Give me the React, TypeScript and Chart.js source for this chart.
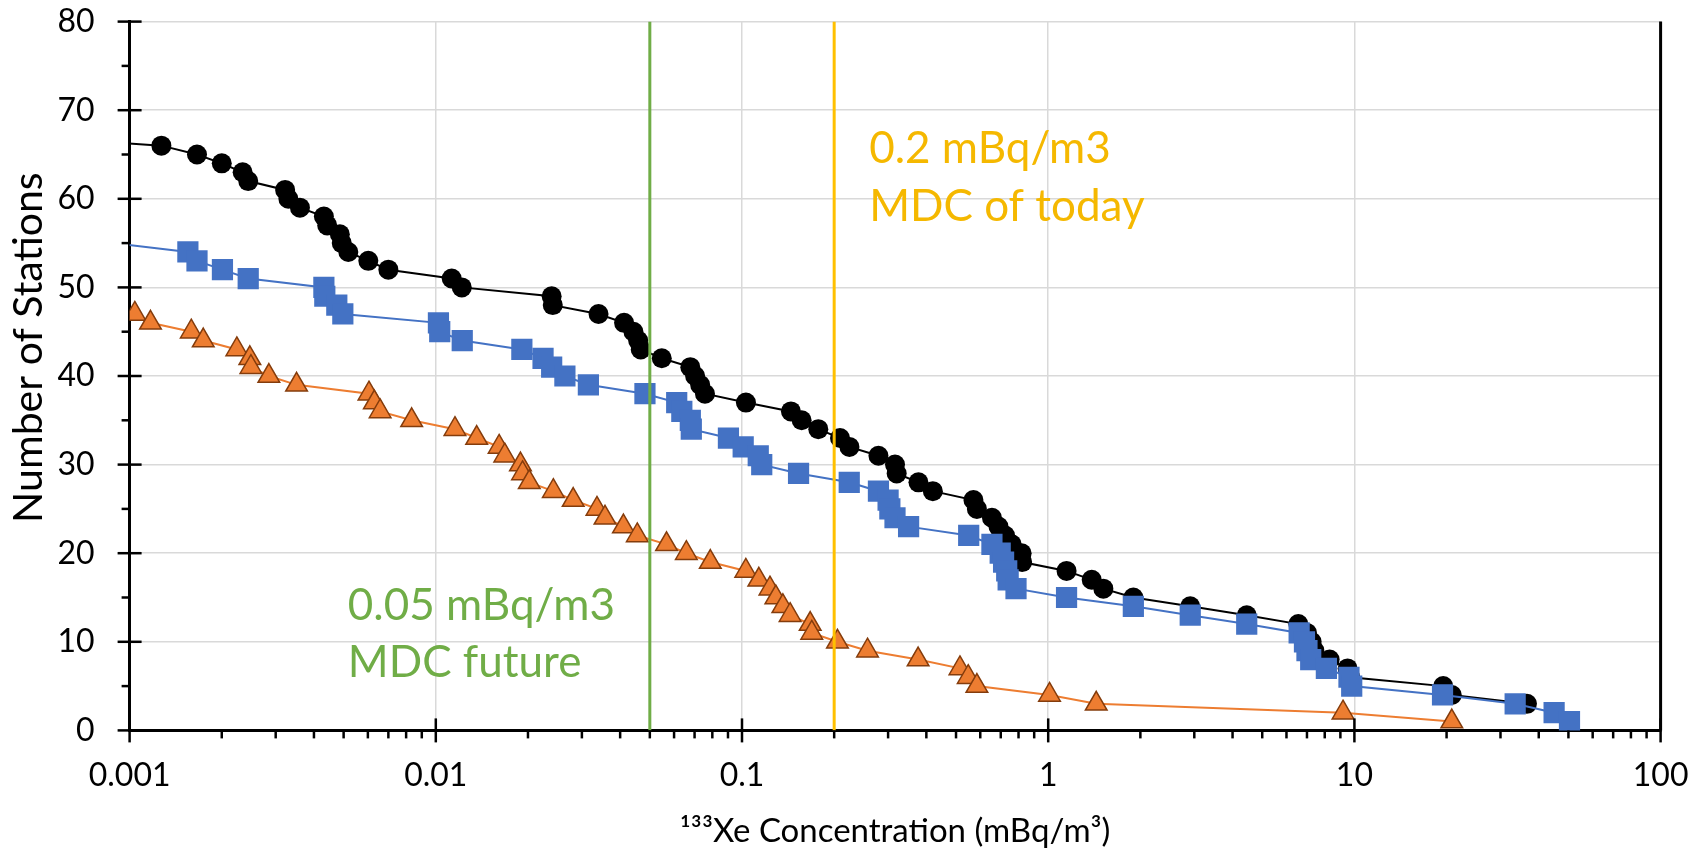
import React, { useEffect, useRef } from 'react';
import { Chart, registerables } from 'chart.js';

Chart.register(...registerables);

// ---- data (concentration in mBq/m3, number of stations) ----
const allX = [0.00045, 0.00127, 0.00166, 0.0020, 0.00234, 0.00244, 0.00322, 0.0033, 0.0036, 0.00431, 0.00442,
  0.00486, 0.00493, 0.00518, 0.00602, 0.0070, 0.01127, 0.01216, 0.0239, 0.0241, 0.034, 0.0412, 0.0442, 0.0458,
  0.0467, 0.0547, 0.0678, 0.0703, 0.073, 0.0757, 0.103, 0.1445, 0.1566, 0.1775, 0.209, 0.2243, 0.279, 0.316,
  0.32, 0.377, 0.42, 0.57, 0.585, 0.655, 0.688, 0.723, 0.76, 0.819, 0.822, 1.148, 1.387, 1.514, 1.897, 2.91,
  4.45, 6.56, 7.0, 7.25, 7.4, 8.3, 9.5, 9.7, 19.5, 20.8, 36.6];
const allY = [67, 66, 65, 64, 63, 62, 61, 60, 59, 58, 57, 56, 55, 54, 53, 52, 51, 50, 49, 48, 47, 46, 45, 44, 43,
  42, 41, 40, 39, 38, 37, 36, 35, 34, 33, 32, 31, 30, 29, 28, 27, 26, 25, 24, 23, 22, 21, 20, 19, 18, 17, 16, 15,
  14, 13, 12, 11, 10, 9, 8, 7, 6, 5, 4, 3];

const blueX = [0.00089, 0.00155, 0.00166, 0.00201, 0.00244, 0.00431, 0.00434, 0.00475, 0.00497, 0.0102, 0.0103,
  0.0122, 0.0191, 0.0224, 0.0239, 0.0264, 0.0315, 0.0482, 0.0612, 0.0636, 0.0678, 0.0683, 0.0903, 0.1009, 0.113,
  0.116, 0.153, 0.224, 0.279, 0.30, 0.304, 0.316, 0.35, 0.55, 0.655, 0.697, 0.715, 0.732, 0.74, 0.785, 1.148,
  1.897, 2.91, 4.45, 6.6, 6.87, 7.0, 7.2, 8.1, 9.6, 9.8, 19.4, 33.5, 44.9, 50.4];
const blueY = [55, 54, 53, 52, 51, 50, 49, 48, 47, 46, 45, 44, 43, 42, 41, 40, 39, 38, 37, 36, 35, 34, 33, 32, 31,
  30, 29, 28, 27, 26, 25, 24, 23, 22, 21, 20, 19, 18, 17, 16, 15, 14, 13, 12, 11, 10, 9, 8, 7, 6, 5, 4, 3, 2, 1];

const orangeX = [0.00104, 0.00117, 0.00159, 0.00174, 0.00224, 0.00247, 0.00249, 0.00285, 0.00351, 0.00605, 0.0063,
  0.00658, 0.00834, 0.01155, 0.0136, 0.0161, 0.0168, 0.0189, 0.0192, 0.0202, 0.0242, 0.0281, 0.0336, 0.0357,
  0.041, 0.0455, 0.0567, 0.0658, 0.0788, 0.1029, 0.1135, 0.1234, 0.129, 0.136, 0.1436, 0.167, 0.169, 0.205,
  0.257, 0.376, 0.515, 0.548, 0.585, 1.01, 1.435, 9.18, 20.8];
const orangeY = [47, 46, 45, 44, 43, 42, 41, 40, 39, 38, 37, 36, 35, 34, 33, 32, 31, 30, 29, 28, 27, 26, 25, 24,
  23, 22, 21, 20, 19, 18, 17, 16, 15, 14, 13, 12, 11, 10, 9, 8, 7, 6, 5, 4, 3, 2, 1];

const mdcFuture = 0.05;
const mdcToday = 0.2;
const yRange = [0, 80];

const xTicks = [0.001, 0.01, 0.1, 1, 10, 100];
const xTickLabels = ['0.001', '0.01', '0.1', '1', '10', '100'];
const yTicks = [0, 10, 20, 30, 40, 50, 60, 70, 80];

const yTitle = 'Number of Stations';
const xTitle = '¹³³Xe Concentration (mBq/m³)';
const todayLines = ['0.2 mBq/m3', 'MDC of today'];
const futureLines = ['0.05 mBq/m3', 'MDC future'];

const FONT = 'Lato, "Open Sans", sans-serif';

const pts = (xs: number[], ys: number[]) => xs.map((x, i) => ({ x, y: ys[i] }));

const decorPlugin = {
  id: 'decor',
  afterDraw(chart: any) {
    const { ctx, chartArea: ca, scales } = chart;
    const xs = scales.x;
    const ys = scales.y;
    ctx.save();
    ctx.strokeStyle = '#000';
    ctx.lineWidth = 3;
    // right border
    ctx.beginPath();
    ctx.moveTo(ca.right, ca.top);
    ctx.lineTo(ca.right, ca.bottom);
    ctx.stroke();
    // x ticks: major crossing, minor outside
    ctx.lineWidth = 2.5;
    for (let d = -3; d <= 2; d++) {
      for (let k = 1; k <= 9; k++) {
        const v = k * Math.pow(10, d);
        if (v > 100.0001) break;
        const px = xs.getPixelForValue(v);
        ctx.beginPath();
        if (k === 1) {
          ctx.moveTo(px, ca.bottom - 12);
          ctx.lineTo(px, ca.bottom + 12);
        } else {
          ctx.moveTo(px, ca.bottom);
          ctx.lineTo(px, ca.bottom + 8);
        }
        ctx.stroke();
      }
    }
    // y ticks
    for (let v = yRange[0]; v <= yRange[1]; v += 5) {
      const py = ys.getPixelForValue(v);
      ctx.beginPath();
      if (v % 10 === 0) {
        ctx.moveTo(ca.left - 12, py);
        ctx.lineTo(ca.left + 12, py);
      } else {
        ctx.moveTo(ca.left - 8, py);
        ctx.lineTo(ca.left, py);
      }
      ctx.stroke();
    }
    // y axis title
    ctx.save();
    ctx.translate(29, ys.getPixelForValue(43.2));
    ctx.rotate(-Math.PI / 2);
    ctx.font = `41px ${FONT}`;
    ctx.fillStyle = '#000';
    ctx.textAlign = 'center';
    ctx.textBaseline = 'middle';
    ctx.fillText(yTitle, 0, 0);
    ctx.restore();
    // annotations
    ctx.font = `44px ${FONT}`;
    ctx.textBaseline = 'alphabetic';
    ctx.textAlign = 'left';
    ctx.fillStyle = '#F5B800';
    const tx = xs.getPixelForValue(mdcToday) + 35;
    todayLines.forEach((t, i) => ctx.fillText(t, tx, 163 + i * 58));
    ctx.fillStyle = '#70AD47';
    const fx = xs.getPixelForValue(mdcFuture) - 302;
    futureLines.forEach((t, i) => ctx.fillText(t, fx, 620 + i * 57));
    ctx.restore();
  },
};

export default function App() {
  const ref = useRef<HTMLCanvasElement | null>(null);

  useEffect(() => {
    document.body.style.margin = '0';
    const canvas = ref.current;
    if (!canvas) return;
    const chart = new Chart(canvas, {
      type: 'scatter',
      data: {
        datasets: [
          {
            label: 'MDC future',
            data: pts([mdcFuture, mdcFuture], yRange),
            showLine: true,
            borderColor: '#70AD47',
            borderWidth: 3,
            pointRadius: 0,
          },
          {
            label: 'MDC today',
            data: pts([mdcToday, mdcToday], yRange),
            showLine: true,
            borderColor: '#FFC000',
            borderWidth: 3,
            pointRadius: 0,
          },
          {
            label: 'Orange',
            data: pts(orangeX, orangeY),
            showLine: true,
            borderColor: '#ED7D31',
            borderWidth: 2,
            pointStyle: 'triangle',
            pointRadius: 12.5,
            pointBackgroundColor: '#ED7D31',
            pointBorderColor: '#843C0C',
            pointBorderWidth: 1.5,
          },
          {
            label: 'Blue',
            data: pts(blueX, blueY),
            showLine: true,
            borderColor: '#4472C4',
            borderWidth: 2,
            pointStyle: 'rect',
            pointRadius: 15,
            pointBackgroundColor: '#4472C4',
            pointBorderColor: '#4472C4',
            pointBorderWidth: 0,
          },
          {
            label: 'All',
            data: pts(allX, allY),
            showLine: true,
            borderColor: '#000000',
            borderWidth: 2,
            pointStyle: 'circle',
            pointRadius: 10,
            pointBackgroundColor: '#000000',
            pointBorderColor: '#000000',
            pointBorderWidth: 0,
          },
        ],
      },
      options: {
        responsive: false,
        animation: false,
        devicePixelRatio: 1,
        events: [],
        layout: { autoPadding: false, padding: { left: 0, top: 21.6, right: 33.4, bottom: 0 } },
        plugins: { legend: { display: false }, tooltip: { enabled: false } },
        scales: {
          x: {
            type: 'logarithmic',
            min: 0.001,
            max: 100,
            afterBuildTicks: (s: any) => {
              s.ticks = xTicks.map((v) => ({ value: v }));
            },
            afterFit: (s: any) => {
              s.height = 851 - 730.4;
            },
            grid: { color: '#D9D9D9', lineWidth: 1.5, drawTicks: true, tickLength: 24, tickColor: 'rgba(0,0,0,0)' },
            border: { display: true, color: '#000', width: 3 },
            ticks: {
              callback: (_v: any, i: number) => xTickLabels[i],
              font: { family: FONT, size: 32 },
              color: '#000',
              padding: 2,
              maxRotation: 0,
              autoSkip: false,
            },
            title: {
              display: true,
              text: xTitle,
              font: { family: FONT, size: 33 },
              color: '#000',
              padding: { top: 0, bottom: 0 },
            },
          },
          y: {
            type: 'linear',
            min: yRange[0],
            max: yRange[1],
            afterBuildTicks: (s: any) => {
              s.ticks = yTicks.map((v) => ({ value: v }));
            },
            afterFit: (s: any) => {
              s.width = 129.6;
            },
            grid: { color: '#D9D9D9', lineWidth: 1.5, drawTicks: true, tickLength: 33, tickColor: 'rgba(0,0,0,0)' },
            border: { display: true, color: '#000', width: 3 },
            ticks: {
              font: { family: FONT, size: 32 },
              color: '#000',
              padding: 2,
            },
            title: { display: false },
          },
        },
      },
      plugins: [decorPlugin],
    });
    return () => chart.destroy();
  }, []);

  return (
    <div style={{ width: 1694, height: 851 }}>
      <canvas ref={ref} width={1694} height={851} style={{ display: 'block' }} />
    </div>
  );
}
